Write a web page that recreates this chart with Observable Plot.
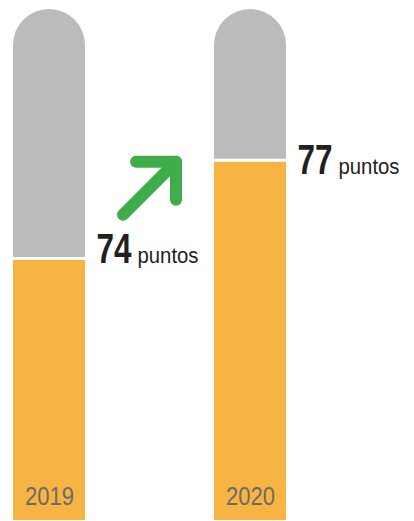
<!DOCTYPE html>
<html>
<head>
<meta charset="utf-8">
<script src="https://cdn.jsdelivr.net/npm/d3@7"></script>
<script src="https://cdn.jsdelivr.net/npm/@observablehq/plot@0.6"></script>
<style>
  html, body { margin: 0; padding: 0; background: #fff; }
</style>
</head>
<body>
<div id="chart"></div>
<script>
// ---- data ----
const years = ["2019", "2020"];
const values = [74, 77];
const unitLabel = "puntos";
const scaleMin = 66;      // bottom of the (truncated) bar scale
const scaleMax = 81.6;    // top of the grey track

const data = years.map((year, i) => ({year, value: values[i], lo: scaleMin, hi: scaleMax}));

// ---- styles ----
const GREY = "#bbbbbb";
const ORANGE = "#f8b442";
const GREEN = "#3fae4a";
const DARK = "#231f20";
const YEARCOL = "#6b6b6b";
const FONT = "'Liberation Sans', Arial, Helvetica, sans-serif";
const labelDy = [5, 14];

function arrowMark(index, scales, vals, dimensions) {
  const x = scales.x, y = scales.y;
  const tipX = x(years[1]) - 38;
  const tipY = y(values[1]) + 2;
  const g = d3.create("svg:g")
    .attr("fill", "none")
    .attr("stroke", GREEN)
    .attr("stroke-width", 12)
    .attr("stroke-linecap", "round")
    .attr("stroke-linejoin", "round");
  g.append("path").attr("d", `M${tipX - 53},${tipY + 53}L${tipX},${tipY}`);
  g.append("path").attr("d", `M${tipX - 40},${tipY}L${tipX},${tipY}L${tipX},${tipY + 38}`);
  return g.node();
}

const plot = Plot.plot({
  width: 414,
  height: 521,
  marginTop: 0, marginRight: 0, marginBottom: 0, marginLeft: 0,
  style: {background: "white", fontFamily: FONT},
  x: {type: "band", domain: years, range: [13, 286], paddingInner: 0.642, paddingOuter: 0, align: 0, axis: null},
  y: {domain: [scaleMin, scaleMax], range: [520, 9], axis: null},
  marks: [
    Plot.barY(data, {x: "year", y1: "lo", y2: "hi", fill: GREY, rx: 36}),
    Plot.barY(data, {x: "year", y1: "lo", y2: "value", fill: ORANGE}),
    Plot.tickY(data, {x: "year", y: "value", stroke: "white", strokeWidth: 3}),
    Plot.text(data, {x: "year", y: "lo", text: "year", dy: -24, fill: YEARCOL, fontSize: 25}),
    ...data.map((d, i) => Plot.text([d], {x: "year", y: "value", text: r => String(r.value), textAnchor: "start", lineAnchor: "bottom", dx: 47, dy: labelDy[i], fontSize: 42, fontWeight: "bold", fill: DARK})),
    ...data.map((d, i) => Plot.text([d], {x: "year", y: "value", text: () => unitLabel, textAnchor: "start", lineAnchor: "bottom", dx: 88, dy: labelDy[i], fontSize: 22, fill: DARK})),
    arrowMark
  ]
});

// condense the lettering like the original's narrow typeface
d3.select(plot).selectAll("text").each(function() {
  const t = this.textContent.trim();
  let len = null;
  if (years.includes(t)) len = 49;
  else if (values.map(String).includes(t)) len = 35;
  else if (t === unitLabel) len = 61;
  if (len) d3.select(this).attr("textLength", len).attr("lengthAdjust", "spacingAndGlyphs");
});

document.getElementById("chart").appendChild(plot);
</script>
</body>
</html>
